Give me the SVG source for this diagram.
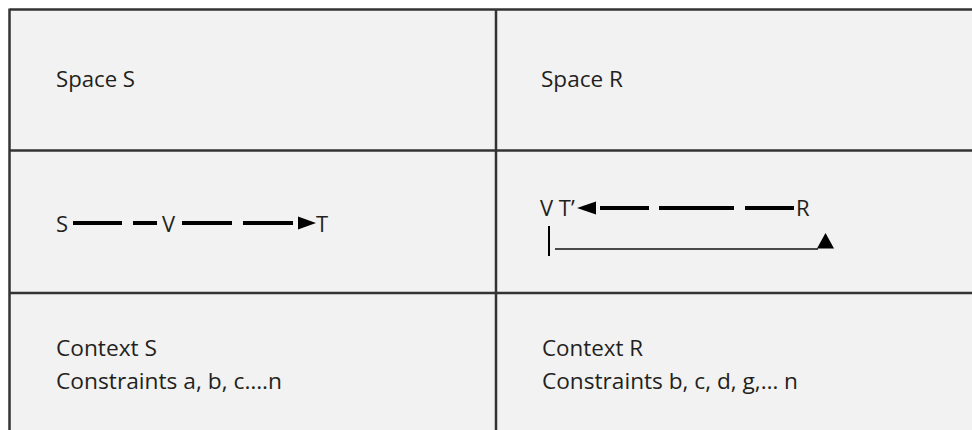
<svg xmlns="http://www.w3.org/2000/svg" width="972" height="430" viewBox="0 0 972 430">
  <style>
    .grid { stroke: #333333; stroke-width: 2.5; fill: none; }
    .lbl { font-family: "Open Sans", "Liberation Sans", sans-serif; font-size: 21px; fill: #231f20; }
    .big { font-size: 22px; }
    .bar { fill: #000; }
    .thin { stroke: #111; stroke-width: 1.3; }
  </style>
  <rect x="0" y="0" width="972" height="430" fill="#ffffff"/>
  <rect x="10" y="10" width="962" height="420" fill="#f2f2f2"/>

  <!-- table rules -->
  <g id="table">
    <line class="grid" x1="10" y1="9.5" x2="972" y2="9.5"/>
    <line class="grid" x1="9.5" y1="8.5" x2="9.5" y2="430"/>
    <line class="grid" x1="496" y1="9.5" x2="496" y2="430"/>
    <line class="grid" x1="10" y1="150.5" x2="972" y2="150.5"/>
    <line class="grid" x1="10" y1="293" x2="972" y2="293"/>
  </g>

  <!-- header row -->
  <g id="space-s">
    <text class="lbl" x="56" y="87" textLength="79" lengthAdjust="spacingAndGlyphs">Space S</text>
  </g>
  <g id="space-r">
    <text class="lbl" x="541" y="87" textLength="82" lengthAdjust="spacingAndGlyphs">Space R</text>
  </g>

  <!-- path S to T -->
  <g id="path-s">
    <text class="lbl big" x="56" y="232">S</text>
    <text class="lbl big" x="162" y="232">V</text>
    <text class="lbl big" x="316" y="232">T</text>
    <rect class="bar" x="73" y="221" width="49" height="4"/>
    <rect class="bar" x="133" y="221" width="24" height="4"/>
    <rect class="bar" x="182" y="221" width="50" height="4"/>
    <rect class="bar" x="243" y="221" width="50" height="4"/>
    <polygon class="bar" points="298,216.5 316,223 298,229.5"/>
  </g>

  <!-- path R back to T' -->
  <g id="path-r">
    <text class="lbl big" x="540" y="216">V T’</text>
    <text class="lbl big" x="796" y="216">R</text>
    <polygon class="bar" points="596,201.5 577,208 596,214.5"/>
    <rect class="bar" x="600" y="206" width="49" height="4"/>
    <rect class="bar" x="659" y="206" width="75" height="4"/>
    <rect class="bar" x="745" y="206" width="49" height="4"/>
    <rect class="bar" x="548" y="226" width="2" height="30"/>
    <line class="thin" x1="555" y1="249" x2="818" y2="249"/>
    <polygon class="bar" points="817,248.5 825.5,233 834,248.5"/>
  </g>

  <!-- context row -->
  <g id="context-s">
    <text class="lbl" x="56" y="356" textLength="101" lengthAdjust="spacingAndGlyphs">Context S</text>
    <text class="lbl" x="56" y="389" textLength="226" lengthAdjust="spacingAndGlyphs">Constraints a, b, c….n</text>
  </g>
  <g id="context-r">
    <text class="lbl" x="542" y="356" textLength="101" lengthAdjust="spacingAndGlyphs">Context R</text>
    <text class="lbl" x="542" y="389" textLength="256" lengthAdjust="spacingAndGlyphs">Constraints b, c, d, g,… n</text>
  </g>
</svg>
